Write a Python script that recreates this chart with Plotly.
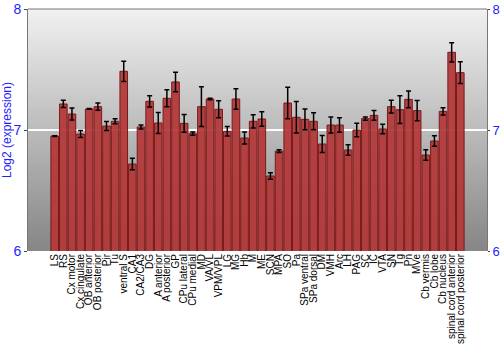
import plotly.graph_objects as go

regions = ["LS", "RS", "Cx motor", "Cx cingulate", "OB anterior", "OB posterior", "Pir", "Tu",
           "ventral S", "CA1", "CA2/CA3", "DG", "A anterior", "A posterior", "GP", "CPu lateral",
           "CPu medial", "MD", "VA/VL", "VPM/VPL", "LG", "MG", "Hb", "M", "ME", "SCN", "MPA", "SO",
           "Pa", "SPa ventral", "SPa dorsal", "DM", "VMH", "Arc", "LH", "PAG", "SC", "IC", "VTA",
           "SN", "Tg", "Pn", "MVe", "Cb vermis", "Cb lobe", "Cb nucleus", "spinal cord anterior",
           "spinal cord posterior"]
expression = [6.95, 7.215, 7.132, 6.967, 7.174, 7.193, 7.033, 7.072,
              7.485, 6.719, 7.025, 7.237, 7.058, 7.262, 7.397, 7.055,
              6.970, 7.193, 7.256, 7.171, 6.989, 7.256, 6.934, 7.072, 7.091, 6.620, 6.826, 7.223,
              7.105, 7.088, 7.072, 6.884, 7.041, 7.041, 6.835, 7.000, 7.094, 7.121, 7.008,
              7.193, 7.168, 7.253, 7.160, 6.793, 6.909, 7.154, 7.642,
              7.474]
errors = [0.003, 0.03, 0.05, 0.028, 0.003, 0.03, 0.037, 0.02,
          0.084, 0.047, 0.017, 0.047, 0.087, 0.07, 0.08, 0.073,
          0.014, 0.165, 0.007, 0.07, 0.039, 0.085, 0.05, 0.055, 0.06, 0.026, 0.011, 0.13,
          0.13, 0.085, 0.07, 0.07, 0.066, 0.06, 0.044, 0.055, 0.014, 0.04, 0.039,
          0.052, 0.115, 0.07, 0.083, 0.044, 0.043, 0.03, 0.08,
          0.09]
y_ticks = [6, 7, 8]

fig = go.Figure()
fig.add_trace(go.Bar(
    x=regions, y=expression,
    marker=dict(color="rgba(180,56,56,0.93)", line=dict(color="#7a1a1a", width=1)),
    error_y=dict(type="data", array=errors, color="black", thickness=1.5, width=2.5),
    width=0.88,
))
fig.add_trace(go.Scatter(x=regions, y=expression, yaxis="y2", mode="markers",
                         marker=dict(opacity=0), hoverinfo="skip", showlegend=False))

# vertical gray gradient background (stacked rects, no seams)
n = 60
shapes = []
for i in range(n):
    t = i / n
    c = int(135 + (242 - 135) * t)
    shapes.append(dict(type="rect", xref="x domain", yref="y domain",
                       x0=0, x1=1, y0=t, y1=1,
                       fillcolor=f"rgb({c},{c},{c})", line=dict(width=0), layer="below"))
fig.update_layout(shapes=shapes)

fig.update_layout(
    width=500, height=350,
    margin=dict(l=28, r=13, t=9, b=99),
    paper_bgcolor="white", plot_bgcolor="rgba(0,0,0,0)",
    showlegend=False, bargap=0.1,
    font=dict(family="Liberation Sans, Arial, sans-serif"),
    xaxis=dict(tickangle=-90, tickmode="array", tickvals=regions, ticktext=regions,
               tickfont=dict(size=10, color="black"), showgrid=False,
               ticks="", showline=False, automargin=False),
    yaxis=dict(range=[6, 8], tickvals=y_ticks, tickfont=dict(size=14, color="#1e1eff"),
               ticks="outside", ticklen=3, tickcolor="#444", showgrid=True, gridcolor="white",
               gridwidth=1.5, showline=True, linecolor="#777", linewidth=1, zeroline=False,
               title=dict(text="Log2 (expression)", font=dict(size=12, color="#1e1eff"), standoff=4),
               automargin=False),
    yaxis2=dict(range=[6, 8], tickvals=y_ticks, overlaying="y", side="right",
                tickfont=dict(size=13, color="#1e1eff"), ticks="outside", ticklen=2,
                tickcolor="#444", showgrid=False, showline=True, linecolor="#777",
                zeroline=False, automargin=False),
)
fig.add_shape(type="line", xref="paper", yref="paper", x0=0, x1=1, y0=1, y1=1,
              line=dict(color="#777", width=1))
fig.write_html("out.html")
